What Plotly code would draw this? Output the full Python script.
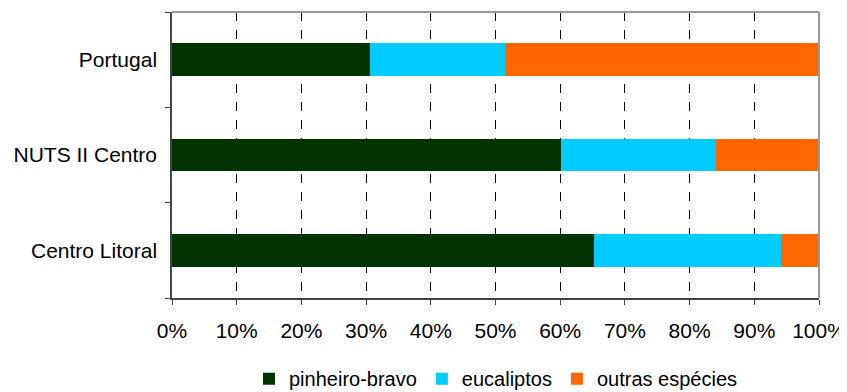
import plotly.graph_objects as go

categories = ["Centro Litoral", "NUTS II Centro", "Portugal"]
pinheiro = [65.2, 60.1, 30.6]
eucaliptos = [28.9, 24.0, 20.9]
outras = [5.9, 15.9, 48.5]
series_names = ["pinheiro-bravo", "eucaliptos", "outras espécies"]
colors = ["#003300", "#00CCFF", "#FF6600"]
x_ticks = [0, 10, 20, 30, 40, 50, 60, 70, 80, 90, 100]
x_tick_labels = [f"{v}%" for v in x_ticks]

fig = go.Figure()
for name, vals, col in zip(series_names, [pinheiro, eucaliptos, outras], colors):
    fig.add_trace(go.Bar(y=categories, x=vals, name=name, orientation="h",
                         marker=dict(color=col, line=dict(width=0)), width=0.34))

# page body has an 8px default margin, so the figure is sized to fit the window
fig.update_layout(
    barmode="stack",
    width=839, height=384,
    margin=dict(l=164, r=28, t=4, b=94, autoexpand=False),
    paper_bgcolor="white", plot_bgcolor="white",
    font=dict(family="Liberation Sans, Arial, sans-serif", size=21, color="black"),
    showlegend=True,
    legend=dict(orientation="h", x=0.5, xanchor="center", y=-0.282, yanchor="middle",
                font=dict(size=20), itemwidth=30, traceorder="normal",
                tracegroupgap=0, itemclick=False, bgcolor="rgba(0,0,0,0)"),
    xaxis=dict(range=[0, 100], tickvals=x_ticks, ticktext=x_tick_labels,
               showgrid=True, gridcolor="black", griddash="dash", gridwidth=1,
               showline=True, linecolor="#444", linewidth=1.5,
               ticks="outside", ticklen=5, tickcolor="#444", zeroline=False,
               automargin=False, ticklabelstandoff=8, fixedrange=True),
    yaxis=dict(showgrid=False, showline=True, linecolor="#444", linewidth=1.5,
               ticks="outside", ticklen=5, tickcolor="#444", tickson="boundaries",
               range=[-0.5, 2.5], automargin=False, ticklabelstandoff=9,
               fixedrange=True),
)
fig.add_shape(type="line", xref="paper", yref="paper", x0=0, x1=1, y0=1, y1=1,
              line=dict(color="#999", width=2))
fig.add_shape(type="line", xref="paper", yref="paper", x0=1, x1=1, y0=0, y1=1,
              line=dict(color="#999", width=2))
fig.write_html("out.html")
